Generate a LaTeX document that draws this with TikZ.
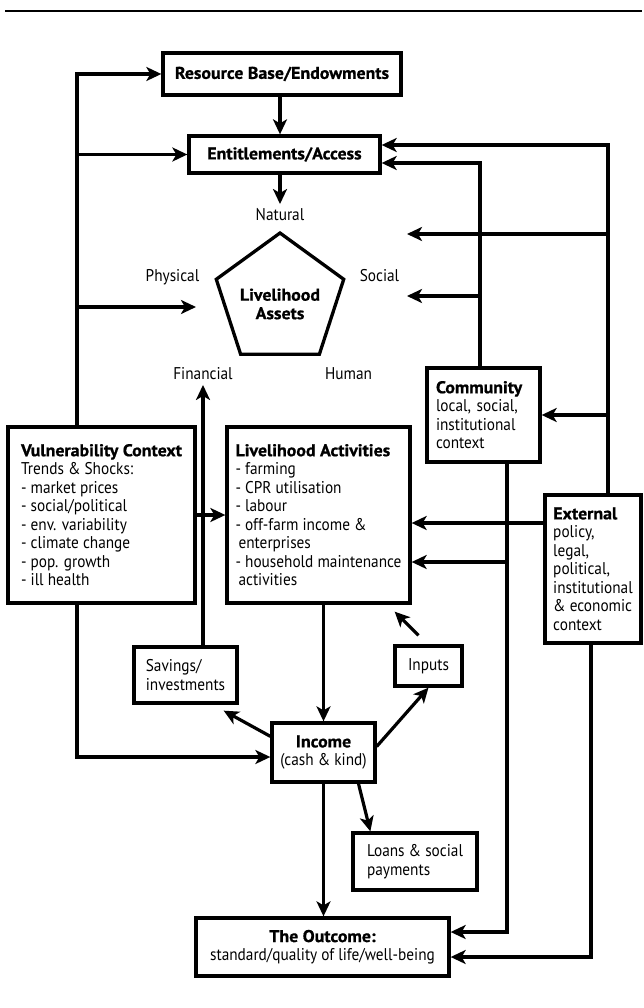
\documentclass[tikz,border=0pt]{standalone}
\usepackage{fontspec}
\setmainfont{PT Sans}[FakeStretch=0.9, BoldFeatures={FakeStretch=1.05, FakeBold=0.8}]
\usetikzlibrary{arrows.meta,shapes.geometric,calc}
\newcommand\dfont{\fontsize{17pt}{18.5pt}\selectfont}
\begin{document}
\begin{tikzpicture}[x=1pt,y=-1pt,
  every node/.style={font=\dfont},
  box/.style={draw, line width=3.3pt, rectangle, align=left, inner sep=0pt},
  lbl/.style={inner sep=2pt, text height=12pt, text depth=3.5pt},
  link/.style={line width=3.2pt, line join=miter},
  arr/.style={link, -{Stealth[length=15pt,width=14pt,inset=4pt]}},
]
% page frame and the rule across the top
\fill[white] (0,0) rectangle (642,1008);
\draw[line width=2.5pt] (5,11) -- (642,11);

% boxes
\node[box, minimum width=238pt, minimum height=42pt, font=\dfont\bfseries] (res) at (282,74) {Resource Base/Endowments};
\node[box, minimum width=191pt, minimum height=37pt, font=\dfont\bfseries] (ent) at (284.5,154.5) {Entitlements/Access};
\node[draw, line width=3.3pt, regular polygon, regular polygon sides=5, minimum size=134pt,
      inner sep=0pt] (assets) at (280,300) {};
\node[align=center, font=\dfont\bfseries, inner sep=0pt] (assetsname) at (280,304) {Livelihood\\Assets};

\node[lbl] (nat) at (280,216) {Natural};
\node[lbl] (phy) at (172.5,277) {Physical};
\node[lbl] (soc) at (379.5,277) {Social};
\node[lbl] (fin) at (203,375) {Financial};
\node[lbl] (hum) at (348.5,375) {Human};

\node[box, minimum width=187pt, minimum height=176pt] (vul) at (101.5,515)
  {\textbf{Vulnerability Context}\\Trends \& Shocks:\\- market prices\\- social/political\\- env. variability\\- climate change\\- pop. growth\\- ill health};
\node[box, minimum width=183pt, minimum height=176pt] (la) at (318.5,515)
  {\textbf{Livelihood Activities}\\- farming\\- CPR utilisation\\- labour\\- off-farm income \&\\\hspace*{3pt}enterprises\\- household maintenance\\\hspace*{3pt}activities};
\node[box, minimum width=113pt, minimum height=94pt, text width=95pt, inner xsep=9pt] (com) at (483.5,415)
  {\textbf{Community}\\local, social,\\institutional\\context};
\node[box, minimum width=96pt, minimum height=148pt] (ext) at (593,569)
  {\textbf{External}\\policy,\\legal,\\political,\\institutional\\\& economic\\context};

\node[box, minimum width=103pt, minimum height=56pt] (sav) at (185.5,675) {Savings/\\investments};
\node[box, minimum width=67pt, minimum height=40pt] (inp) at (428.5,666) {Inputs};
\node[box, minimum width=103pt, minimum height=59pt, align=center] (inc) at (323.5,752.5) {\textbf{Income}\\(cash \& kind)};
\node[box, minimum width=124pt, minimum height=57pt] (loan) at (415,861.5) {Loans \& social\\payments};
\node[box, minimum width=253pt, minimum height=58pt, align=center] (out) at (322.5,947)
  {\textbf{The Outcome:}\\standard/quality of life/well-being};

% junctions and free arrow ends
\coordinate (L1) at (77,74);
\coordinate (pa) at (196,307);
\coordinate (R1) at (608,145);
\coordinate (tn) at (407,234);
\coordinate (C1) at (480,163);
\coordinate (ts) at (407,296);
\coordinate (C2) at (507,932);
\coordinate (cj) at (507,562);
\coordinate (ej) at (545,523);
\coordinate (X2) at (591,957);
\coordinate (V2) at (77,757);

% vulnerability context feeds
\draw[arr] (L1 |- vul.north) -- (L1) -- (L1 -| res.west);
\draw[arr] (L1 |- ent.west) -- (ent.west);
\draw[arr] (L1 |- pa) -- (pa);
\draw[arr] (L1 |- vul.south) -- (V2) -- (V2 -| inc.west);
\draw[arr] (vul.east) -- (la.west);

% external context feeds
\draw[arr] (R1 |- ext.north) -- (R1) -- (R1 -| ent.east);
\draw[arr] (R1 |- tn) -- (tn);
\draw[arr] (R1 |- com.east) -- (com.east);
\draw[arr] (ext.west |- ej) -- (ej -| la.east);
\draw[arr] (X2 |- ext.south) -- (X2) -- (X2 -| out.east);

% community context feeds
\draw[arr] (C1 |- com.north) -- (C1) -- (C1 -| ent.east);
\draw[arr] (C1 |- ts) -- (ts);
\draw[arr] (C2 |- com.south) -- (C2) -- (C2 -| out.east);
\draw[arr] (cj) -- (cj -| la.east);

% main chain
\draw[arr] (nat.north |- res.south) -- (nat.north |- ent.north);
\draw[arr, shorten >=2pt] (nat.north |- ent.south) -- (nat.north);
\draw[arr] (fin.south |- sav.north) -- (fin.south);
\draw[arr] (la.south -| inc.north) -- (inc.north);
\draw[arr] (inc.south) -- (inc.south |- out.north);
\draw[arr] ($(inc.north west)+(0,15)$) -- ($(sav.south east)+(-15,6)$);
\draw[arr] ($(inc.east)+(0,-6)$) -- (inp.south);
\draw[arr] ($(inp.north)+(-10,-9)$) -- ($(la.south east)+(-17,7)$);
\draw[arr] ($(inc.south)+(35,0)$) -- ($(loan.north west)+(19,0)$);
\end{tikzpicture}
\end{document}
